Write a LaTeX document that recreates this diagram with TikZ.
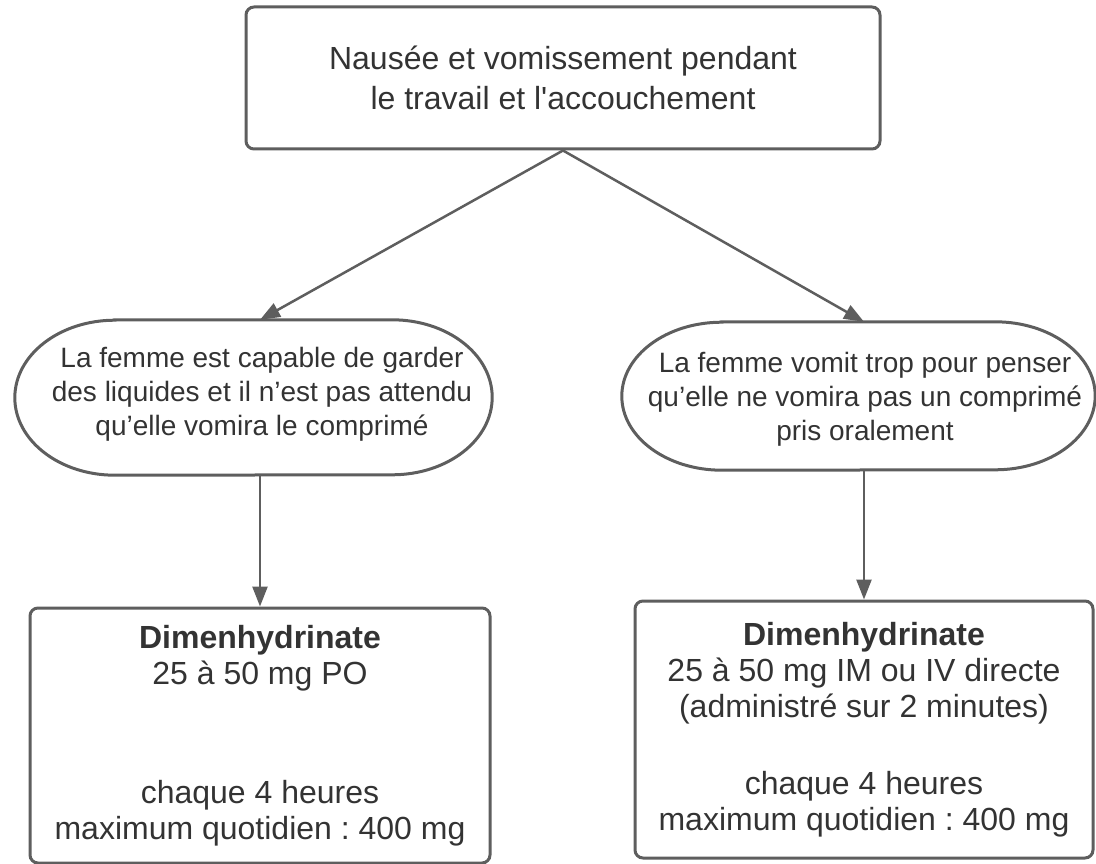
\documentclass[tikz,border=0pt]{standalone}
\usepackage{fontspec}
\newfontfamily\lib{Liberation Sans}
\usetikzlibrary{arrows.meta,calc}
\definecolor{ln}{HTML}{5E5E5E}
\definecolor{tx}{HTML}{333333}
\frenchspacing
\begin{document}
\begin{tikzpicture}[x=1pt,y=-1pt,
  box/.style={draw=ln, line width=3pt, rounded corners=8pt, text=tx, align=center, inner sep=0pt},
  big/.style={font={\lib\frenchspacing\fontsize{32}{40}\selectfont}},
  med/.style={font={\lib\frenchspacing\fontsize{32}{36}\selectfont}},
  ovaltext/.style={text=tx, align=center, inner sep=0pt, font={\lib\frenchspacing\fontsize{28}{34}\selectfont}},
  ovalframe/.style={draw=none, inner sep=0pt},
  ovalline/.style={draw=ln, line width=3pt},
  arr/.style={draw=ln, line width=2.5pt, -{Triangle[length=20pt,width=15pt]}}]
\useasboundingbox (0,0) rectangle (1096,864);

% top box
\node[box,big,minimum width=634pt,minimum height=142pt] (top) at (563,78)
  {Nausée et vomissement pendant\\le travail et l'accouchement};

% oval frames (for anchors)
\node[ovalframe,minimum width=477pt,minimum height=155pt] (le) at (253.5,397.5) {};
\node[ovalframe,minimum width=473pt,minimum height=148pt] (re) at (858.5,396) {};

\draw[ovalline] ($(le.north west)+(100,0)$) -- ($(le.north east)+(-100,0)$)
  arc[start angle=-90,end angle=90,x radius=100,y radius=77.5]
  -- ($(le.south west)+(100,0)$)
  arc[start angle=90,end angle=270,x radius=100,y radius=77.5] -- cycle;
\draw[ovalline] ($(re.north west)+(100,0)$) -- ($(re.north east)+(-100,0)$)
  arc[start angle=-90,end angle=90,x radius=100,y radius=74]
  -- ($(re.south west)+(100,0)$)
  arc[start angle=90,end angle=270,x radius=100,y radius=74] -- cycle;

\node[ovaltext] (let) at (262,394)
  {La femme est capable de garder\\des liquides et il n’est pas attendu\\qu’elle vomira le comprimé};
\node[ovaltext] (ret) at (865,399)
  {La femme vomit trop pour penser\\qu’elle ne vomira pas un comprimé\\pris oralement};

% bottom boxes
\node[box,med,minimum width=460pt,minimum height=255pt] (lb) at (260,735.5)
  {{\bfseries Dimenhydrinate}\\25 à 50 mg PO\\[83pt]chaque 4 heures\\maximum quotidien : 400 mg};
\node[box,med,minimum width=458pt,minimum height=257pt] (rb) at (864,729.5)
  {{\bfseries Dimenhydrinate}\\25 à 50 mg IM ou IV directe\\(administré sur 2 minutes)\\[41pt]chaque 4 heures\\maximum quotidien : 400 mg};

% connectors
\draw[arr] (top.south) -- (le.north -| lb.north);
\draw[arr] (top.south) -- (re.north -| rb.north);
\draw[arr] (le.south -| lb.north) -- (lb.north);
\draw[arr] (re.south -| rb.north) -- (rb.north);
\end{tikzpicture}
\end{document}
